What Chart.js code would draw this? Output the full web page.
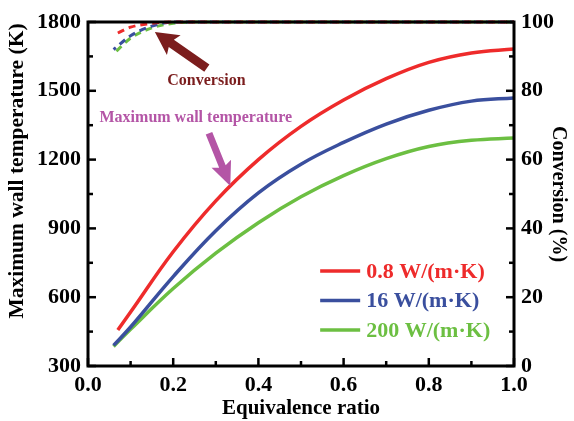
<!DOCTYPE html>
<html>
<head>
<meta charset="utf-8">
<script src="https://cdn.jsdelivr.net/npm/chart.js@4.4.1/dist/chart.umd.min.js"></script>
<style>
  html, body { margin: 0; padding: 0; background: #fff; }
  #wrap { width: 574px; height: 421px; }
</style>
</head>
<body>
<div id="wrap"><canvas id="chart" width="574" height="421"></canvas></div>
<script>
// equivalence ratio vs maximum wall temperature (K)
const ratioRed = [0.07, 0.1, 0.2, 0.3, 0.4, 0.5, 0.6, 0.7, 0.8, 0.9, 1.0];
const tempRed = [457, 535, 798, 1020, 1200, 1345, 1460, 1553, 1624, 1665, 1682];
const ratioBlue = [0.06, 0.1, 0.2, 0.3, 0.4, 0.5, 0.6, 0.7, 0.8, 0.9, 1.0];
const tempBlue = [390, 470, 690, 890, 1055, 1180, 1275, 1355, 1415, 1455, 1469];
const ratioGreen = [0.06, 0.1, 0.2, 0.3, 0.4, 0.5, 0.6, 0.7, 0.8, 0.9, 1.0];
const tempGreen = [385, 460, 638, 792, 925, 1038, 1130, 1204, 1257, 1284, 1294];

// conversion (%)
const convRatioRed = [0.07, 0.1, 0.15, 0.2, 0.4, 0.6, 0.8, 1.0];
const convRed = [96.8, 98.5, 99.6, 100, 100, 100, 100, 100];
const convRatioBlue = [0.06, 0.1, 0.15, 0.2, 0.4, 0.6, 0.8, 1.0];
const convBlue = [92, 96, 98.8, 100, 100, 100, 100, 100];
const convRatioGreen = [0.06, 0.1, 0.15, 0.2, 0.25, 0.4, 0.6, 0.8, 1.0];
const convGreen = [90.7, 95.3, 98.3, 99.6, 100, 100, 100, 100, 100];

const seriesLabels = ["0.8 W/(m\u00b7K)", "16 W/(m\u00b7K)", "200 W/(m\u00b7K)"];
const colors = ["#ee2b2b", "#3a4f9e", "#6cbf42"];

const xTicks = [0, 0.2, 0.4, 0.6, 0.8, 1.0];
const tempTicks = [300, 600, 900, 1200, 1500, 1800];
const convTicks = [0, 20, 40, 60, 80, 100];

const pts = (xs, ys) => xs.map((x, i) => ({ x: x, y: ys[i] }));

const FONT = "'Liberation Serif', 'DejaVu Serif', serif";

function tempSet(i, xs, ys) {
  return {
    label: seriesLabels[i],
    data: pts(xs, ys),
    yAxisID: "yT",
    borderColor: colors[i],
    borderWidth: 3.5,
    pointRadius: 0,
    tension: 0.4,
    fill: false
  };
}

function convSet(i, xs, ys) {
  return {
    label: seriesLabels[i] + " conversion",
    data: pts(xs, ys),
    yAxisID: "yC",
    borderColor: colors[i],
    borderWidth: 3,
    borderDash: [7, 5],
    borderDashOffset: i * 4,
    pointRadius: 0,
    cubicInterpolationMode: "monotone",
    fill: false,
    clip: 4,
    isConversion: true
  };
}

// inward ticks, frame, legend and callouts
const decorations = {
  id: "decorations",
  afterDatasetsDraw(chart) {
    const { ctx, chartArea: a, scales } = chart;
    const x = scales.x, yT = scales.yT, yC = scales.yC;
    ctx.save();
    ctx.strokeStyle = "#000";
    ctx.lineWidth = 3;
    ctx.lineCap = "butt";
    ctx.strokeRect(a.left, a.top, a.right - a.left, a.bottom - a.top);

    ctx.lineWidth = 2.5;
    for (let v = 0; v <= 10; v++) {
      const px = x.getPixelForValue(v / 10);
      const len = v % 2 === 0 ? 8 : 5;
      ctx.beginPath();
      ctx.moveTo(px, a.bottom);
      ctx.lineTo(px, a.bottom - len);
      ctx.stroke();
    }
    for (let v = 300; v <= 1800; v += 150) {
      const py = yT.getPixelForValue(v);
      const len = (v % 300 === 0) ? 8 : 5;
      ctx.beginPath();
      ctx.moveTo(a.left, py);
      ctx.lineTo(a.left + len, py);
      ctx.stroke();
    }
    for (let v = 0; v <= 100; v += 10) {
      const py = yC.getPixelForValue(v);
      const len = v % 20 === 0 ? 8 : 5;
      ctx.beginPath();
      ctx.moveTo(a.right, py);
      ctx.lineTo(a.right - len, py);
      ctx.stroke();
    }

    // left axis title, set a little above the axis centre
    ctx.save();
    ctx.translate(17, 171);
    ctx.rotate(-Math.PI / 2);
    ctx.font = "bold 21.5px " + FONT;
    ctx.fillStyle = "#000";
    ctx.textAlign = "center";
    ctx.textBaseline = "middle";
    ctx.fillText("Maximum wall temperature (K)", 0, 0);
    ctx.restore();

    // legend for the temperature curves
    ctx.font = "bold 22px " + FONT;
    ctx.textBaseline = "middle";
    ctx.textAlign = "left";
    const lx = x.getPixelForValue(0.545), ly = yT.getPixelForValue(714);
    chart.data.datasets.filter(d => !d.isConversion).forEach((d, i) => {
      const yy = ly + i * 29.5;
      ctx.strokeStyle = d.borderColor;
      ctx.lineWidth = 3.5;
      ctx.beginPath();
      ctx.moveTo(lx, yy);
      ctx.lineTo(lx + 40, yy);
      ctx.stroke();
      ctx.fillStyle = d.borderColor;
      ctx.fillText(d.label, lx + 46, yy + 1);
    });

    // callouts
    ctx.textAlign = "center";
    ctx.font = "bold 16px " + FONT;
    ctx.fillStyle = "#7b1d1d";
    ctx.fillText("Conversion", x.getPixelForValue(0.278), yC.getPixelForValue(82.9));
    arrow(ctx, x.getPixelForValue(0.279), yC.getPixelForValue(86.6),
      x.getPixelForValue(0.157), yC.getPixelForValue(97.1), "#7b1d1d", 9, 24, 20);

    ctx.fillStyle = "#b455a6";
    ctx.fillText("Maximum wall temperature", x.getPixelForValue(0.253), yT.getPixelForValue(1384));
    arrow(ctx, x.getPixelForValue(0.284), yT.getPixelForValue(1315),
      x.getPixelForValue(0.334), yT.getPixelForValue(1085), "#b455a6", 7, 21, 21);
    ctx.restore();
  }
};

function arrow(ctx, x0, y0, x1, y1, color, shaft, headW, headL) {
  const ang = Math.atan2(y1 - y0, x1 - x0);
  const len = Math.hypot(x1 - x0, y1 - y0);
  ctx.save();
  ctx.translate(x0, y0);
  ctx.rotate(ang);
  ctx.fillStyle = color;
  ctx.beginPath();
  ctx.moveTo(0, -shaft / 2);
  ctx.lineTo(len - headL, -shaft / 2);
  ctx.lineTo(len - headL - 3, -headW / 2);
  ctx.lineTo(len, 0);
  ctx.lineTo(len - headL - 3, headW / 2);
  ctx.lineTo(len - headL, shaft / 2);
  ctx.lineTo(0, shaft / 2);
  ctx.closePath();
  ctx.fill();
  ctx.restore();
}

const tickFont = { family: FONT, size: 22, weight: "bold" };

new Chart(document.getElementById("chart"), {
  type: "line",
  data: {
    datasets: [
      convSet(0, convRatioRed, convRed),
      convSet(1, convRatioBlue, convBlue),
      convSet(2, convRatioGreen, convGreen),
      tempSet(0, ratioRed, tempRed),
      tempSet(1, ratioBlue, tempBlue),
      tempSet(2, ratioGreen, tempGreen)
    ]
  },
  options: {
    responsive: false,
    animation: false,
    layout: { padding: { top: 22, left: 0, right: 0, bottom: 0 } },
    plugins: { legend: { display: false }, tooltip: { enabled: false } },
    scales: {
      x: {
        type: "linear",
        min: 0,
        max: 1,
        afterBuildTicks: s => { s.ticks = xTicks.map(v => ({ value: v })); },
        afterFit: s => { s.height = 55; },
        grid: { display: false, drawTicks: false },
        border: { display: false },
        ticks: {
          color: "#000",
          font: tickFont,
          padding: 6,
          maxRotation: 0,
          callback: v => v.toFixed(1)
        },
        title: {
          display: true,
          text: "Equivalence ratio",
          color: "#000",
          font: { family: FONT, size: 21, weight: "bold" },
          padding: { top: 0, bottom: 0 }
        }
      },
      yT: {
        type: "linear",
        position: "left",
        min: 300,
        max: 1800,
        afterBuildTicks: s => { s.ticks = tempTicks.map(v => ({ value: v })); },
        afterFit: s => { s.width = 88; },
        grid: { display: false, drawTicks: false },
        border: { display: false },
        ticks: { color: "#000", font: tickFont, padding: 7, callback: v => String(v) },
        title: { display: false }
      },
      yC: {
        type: "linear",
        position: "right",
        min: 0,
        max: 100,
        afterBuildTicks: s => { s.ticks = convTicks.map(v => ({ value: v })); },
        afterFit: s => { s.width = 60; },
        grid: { display: false, drawTicks: false },
        border: { display: false },
        ticks: { color: "#000", font: tickFont, padding: 7, callback: v => String(v) },
        title: {
          display: true,
          text: "Conversion (%)",
          color: "#000",
          font: { family: FONT, size: 20, weight: "bold" },
          padding: { top: 4, bottom: 0 }
        }
      }
    }
  },
  plugins: [decorations]
});
</script>
</body>
</html>
